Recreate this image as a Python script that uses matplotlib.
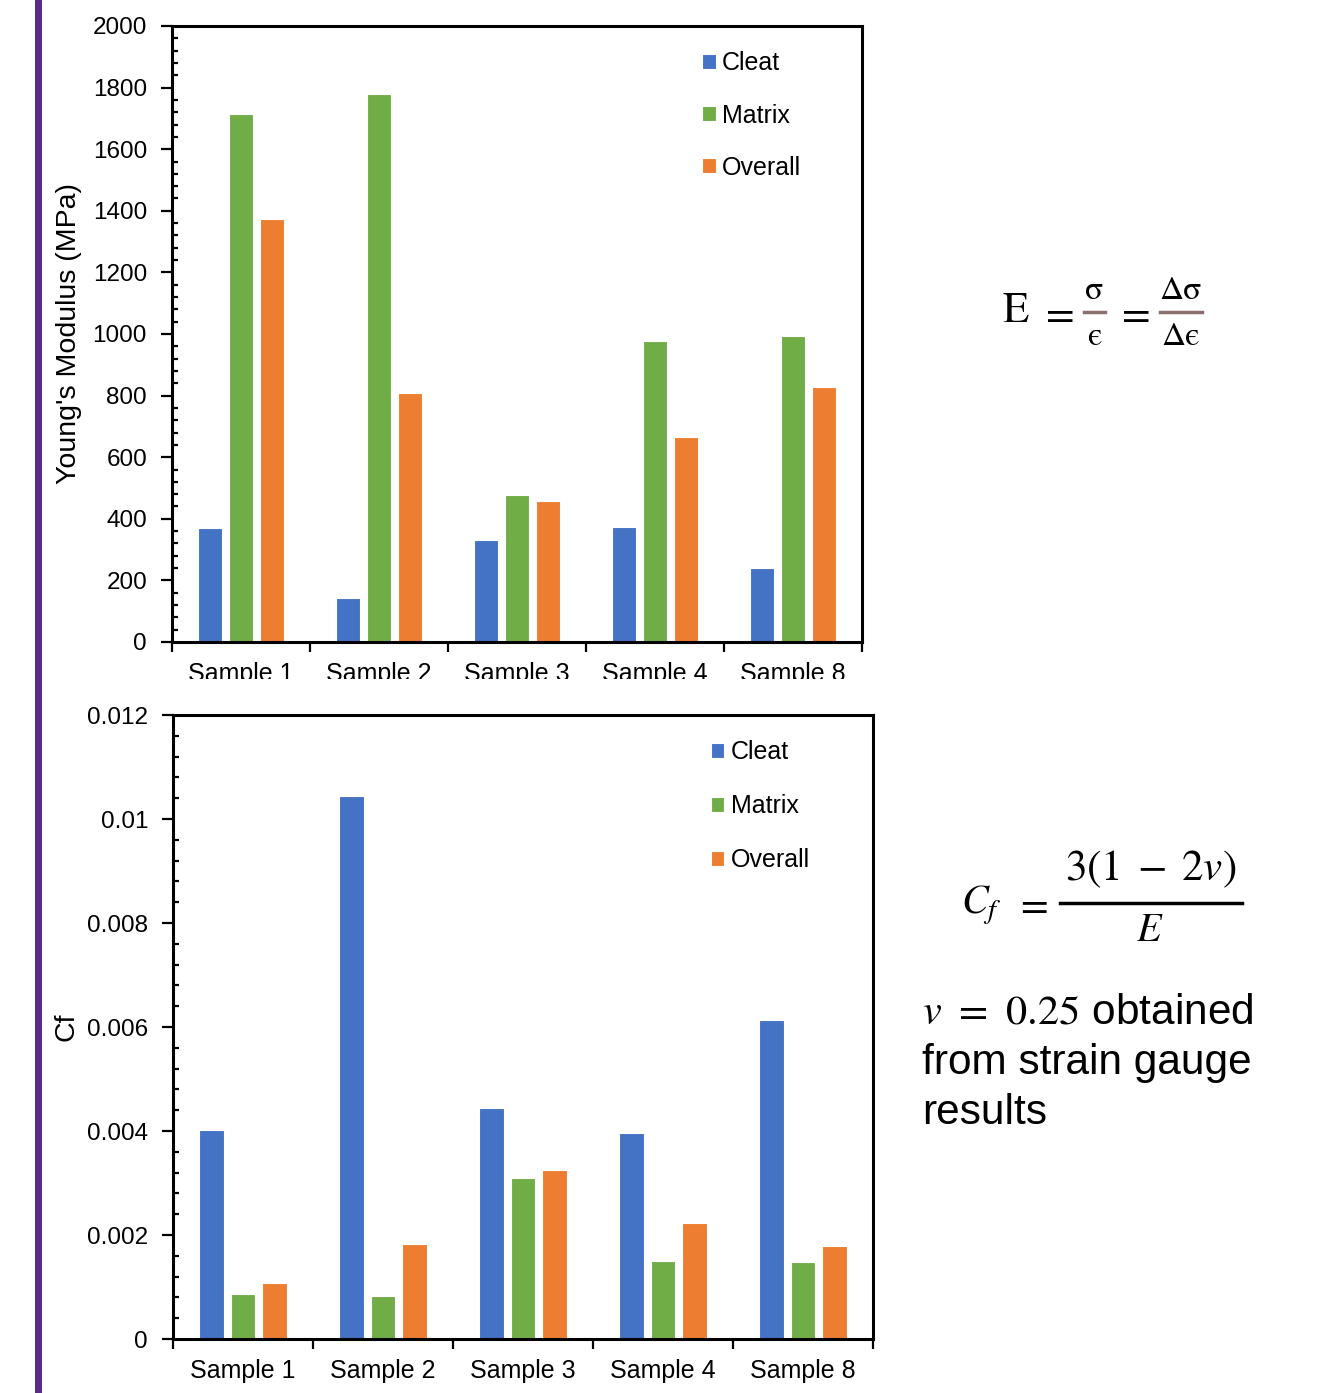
import matplotlib
matplotlib.use('Agg')
import matplotlib.pyplot as plt
import numpy as np
from matplotlib.patches import Rectangle
from matplotlib.lines import Line2D
from matplotlib.ticker import MultipleLocator, FixedLocator, NullFormatter, FixedFormatter, FuncFormatter

plt.rcParams['font.family'] = ['Liberation Sans', 'DejaVu Sans']
plt.rcParams['mathtext.fontset'] = 'stix'

samples = ['Sample 1', 'Sample 2', 'Sample 3', 'Sample 4', 'Sample 8']
series = ['Cleat', 'Matrix', 'Overall']
colors = ['#4472C4', '#70AD47', '#ED7D31']

youngs_cleat = [370, 143, 331, 373, 240]
youngs_matrix = [1715, 1780, 476, 976, 995]
youngs_overall = [1374, 807, 457, 665, 827]

cf_cleat = [0.00401, 0.01044, 0.00444, 0.00396, 0.00613]
cf_matrix = [0.00087, 0.00083, 0.00310, 0.00150, 0.00148]
cf_overall = [0.00108, 0.00183, 0.00325, 0.00223, 0.00179]

W, H = 1321, 1393
fig = plt.figure(figsize=(W / 100, H / 100), dpi=100)


def px_axes(l, t, r, b):
    return fig.add_axes([l / W, 1 - b / H, (r - l) / W, (b - t) / H])


def draw(ax, data, ymax, major, minor, ylabel, fmt, leg_xy, ylab_x, lspace):
    x = np.arange(len(samples))
    width = 0.175
    step = 0.224
    for i, (vals, name, c) in enumerate(zip(data, series, colors)):
        ax.bar(x + (i - 1) * step, vals, width, color=c, edgecolor='white',
               linewidth=0.8, label=name, zorder=2)
    ax.set_xlim(-0.5, len(samples) - 0.5)
    ax.set_ylim(0, ymax)
    ax.xaxis.set_major_locator(FixedLocator(np.arange(len(samples) + 1) - 0.5))
    ax.xaxis.set_major_formatter(NullFormatter())
    ax.xaxis.set_minor_locator(FixedLocator(x))
    ax.xaxis.set_minor_formatter(FixedFormatter(samples))
    ax.yaxis.set_major_locator(MultipleLocator(major))
    ax.yaxis.set_minor_locator(MultipleLocator(minor))
    ax.yaxis.set_major_formatter(FuncFormatter(fmt))
    ax.tick_params(axis='x', which='major', direction='out', length=7, width=1.6,
                   labelbottom=False, top=False)
    ax.tick_params(axis='x', which='minor', direction='in', length=4, width=1.6,
                   labelsize=18, pad=14.5, top=False)
    ax.tick_params(axis='y', which='major', direction='out', length=8, width=1.6,
                   labelsize=17.5, pad=10, right=False)
    ax.tick_params(axis='y', which='minor', direction='in', length=4, width=1.6,
                   right=False)
    for s in ax.spines.values():
        s.set_linewidth(2.2)
    ax.set_ylabel(ylabel, fontsize=20.5)
    ax.yaxis.set_label_coords(ylab_x, 0.5)
    ax.legend(loc='upper left', bbox_to_anchor=leg_xy, frameon=False, fontsize=18,
              handlelength=0.55, handleheight=0.55, handletextpad=0.25,
              labelspacing=lspace, borderpad=0, borderaxespad=0)


ax1 = px_axes(172, 26, 862, 642)
draw(ax1, [youngs_cleat, youngs_matrix, youngs_overall], 2000, 200, 40,
     "Young's Modulus (MPa)", lambda v, p: f'{v:.0f}', (0.768, 0.959), -0.13, 1.13)

ax2 = px_axes(173, 715, 873, 1339)
draw(ax2, [cf_cleat, cf_matrix, cf_overall], 0.012, 0.002, 0.0004,
     'Cf', lambda v, p: f'{v:g}', (0.768, 0.96), -0.134, 1.2)

# cropped-off lower part of top chart's category labels
fig.add_artist(Rectangle((166 / W, 1 - 711 / H), 740 / W, 32 / H,
                         transform=fig.transFigure, facecolor='white',
                         edgecolor='none', zorder=10))

# purple slide bar
fig.add_artist(Rectangle((35 / W, 0), 7 / W, 1, transform=fig.transFigure,
                         facecolor='#5B2C83', edgecolor='none', zorder=11))


def ft(xp, yp, s, size, ha='center', va='center', **kw):
    fig.text(xp / W, 1 - yp / H, s, fontsize=size, ha=ha, va=va, **kw)


def bar(x0, x1, yp, color, lw=2.5):
    fig.add_artist(Line2D([x0 / W, x1 / W], [1 - yp / H] * 2, color=color, lw=lw,
                          transform=fig.transFigure))


serif = ['STIXGeneral', 'DejaVu Serif']
# E = sigma/epsilon = dsigma/depsilon
ft(1016, 312, 'E', 31, family=serif)
ft(1056, 314, r'$=$', 30)
ft(1094, 291, 'σ', 24, family=serif)
bar(1084, 1105, 312, '#8c7070')
ft(1094, 337, 'ϵ', 24, family=serif)
ft(1132, 314, r'$=$', 30)
ft(1181, 291, 'Δσ', 24, family=serif)
bar(1160, 1202, 312, '#8c7070')
ft(1181, 337, 'Δϵ', 24, family=serif)

# Cf = 3(1-2v)/E
ft(981, 905, r'$C_f$', 29)
ft(1032, 905, r'$=$', 29)
ft(1151, 869, r'$3(1\;-\;2v)$', 31)
bar(1060, 1242, 903, 'black', lw=2.5)
ft(1150, 930, r'$E$', 29)

ft(922, 1013, r'$v$ $=$ $0.25$ obtained', 30.5, ha='left')
ft(922, 1063, 'from strain gauge', 30.5, ha='left')
ft(922, 1113, 'results', 30.5, ha='left')

fig.savefig('out.png', dpi=100)
